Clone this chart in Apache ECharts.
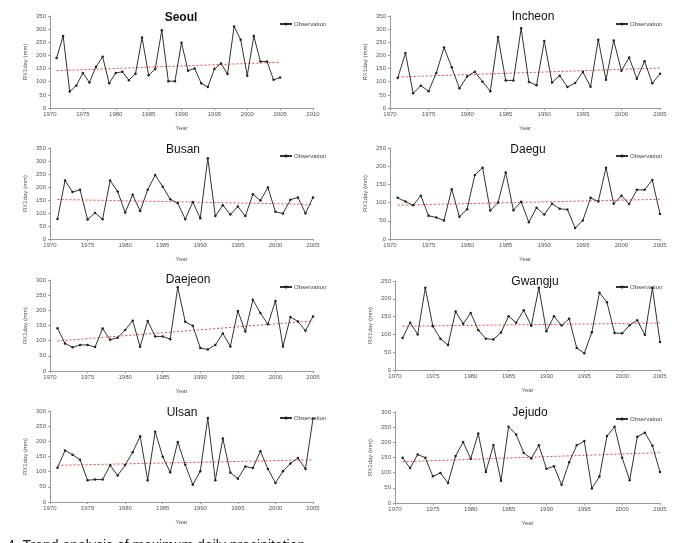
<!DOCTYPE html>
<html>
<head>
<meta charset="utf-8">
<script src="https://cdn.jsdelivr.net/npm/echarts@6/dist/echarts.min.js"></script>
<style>
html,body{margin:0;padding:0;background:#fff;}
#chart{width:681px;height:543px;}
</style>
</head>
<body>
<div id="chart"></div>
<script>
const years = [1971,1972,1973,1974,1975,1976,1977,1978,1979,1980,1981,1982,1983,1984,1985,1986,1987,1988,1989,1990,1991,1992,1993,1994,1995,1996,1997,1998,1999,2000,2001,2002,2003,2004,2005];
const cities = ['Seoul','Incheon','Busan','Daegu','Daejeon','Gwangju','Ulsan','Jejudo'];
const seoul   = [190,274,63,85,133,97,157,195,94,133,138,106,130,268,125,148,296,102,102,248,142,150,94,80,148,169,129,310,260,123,274,177,177,107,116];
const incheon = [114,209,56,85,64,133,230,155,75,120,138,100,64,270,105,105,303,99,87,255,97,123,80,95,137,81,260,107,257,142,192,111,178,94,130];
const busan   = [77,225,181,189,75,100,76,225,183,102,170,108,189,246,201,153,138,76,142,80,311,88,130,94,125,88,172,148,198,105,98,151,160,99,160];
const daegu   = [113,103,93,119,64,59,51,137,61,82,176,196,78,100,183,79,102,46,86,67,97,83,81,30,51,113,103,196,97,119,96,135,135,162,69];
const daejeon = [141,91,78,86,86,79,140,103,110,135,166,80,165,114,114,105,276,162,149,76,71,86,124,81,198,130,235,191,154,231,81,178,163,133,180];
const gwangju = [90,133,100,231,123,88,70,164,130,160,112,88,86,105,151,133,168,124,231,109,151,125,144,62,47,106,217,190,104,103,126,140,99,230,79];
const ulsan   = [113,170,156,139,72,74,74,121,87,122,164,217,72,232,149,98,198,123,57,101,277,72,209,97,77,117,112,167,109,63,101,127,145,109,275];
const jejudo  = [149,115,160,149,88,99,66,155,201,146,229,102,191,73,251,226,165,147,190,113,121,60,134,190,204,48,87,221,251,149,75,218,232,189,102];
const trendStart = [142,118,152,93,99,123,121,136];
const trendEnd   = [174,152,133,109,165,132,139,166];
const xMax = [2010,2005,2005,2005,2005,2005,2005,2005];
const yMax = [350,350,350,250,300,250,300,300];
const caption = '4. Trend analysis of maximum daily precipitation';

const values = [seoul,incheon,busan,daegu,daejeon,gwangju,ulsan,jejudo];

// layout (pixels)
const grids = [
  {left:50,  top:16,  w:263, h:92},
  {left:390, top:16,  w:270, h:92},
  {left:50,  top:148, w:263, h:91},
  {left:390, top:148, w:270, h:91},
  {left:50,  top:280, w:263, h:91},
  {left:395, top:281, w:265, h:89},
  {left:50,  top:411, w:263, h:91},
  {left:395, top:412, w:265, h:91}
];
const titlePos = [[181,18,true],[533,17,false],[183,150,false],[528,150,false],[188,280,false],[535,282,false],[182,413,false],[530,413,false]];
const legendPos = [[279,21],[615,21],[279,153],[615,153],[279,284],[615,284],[279,415],[615,416]];

const FONT = 'Liberation Sans, Arial, sans-serif';
const option = {
  backgroundColor:'#fff',
  animation:false,
  grid:[], xAxis:[], yAxis:[], series:[], legend:[], graphic:[]
};
cities.forEach((c,i)=>{
  const g = grids[i];
  option.grid.push({left:g.left, top:g.top, width:g.w, height:g.h, containLabel:false});
  option.xAxis.push({
    type:'value', gridIndex:i, min:1970, max:xMax[i], interval:5,
    name:'Year', nameLocation:'middle', nameGap:17,
    nameTextStyle:{fontSize:6, color:'#555', fontFamily:FONT},
    axisLine:{lineStyle:{color:'#999', width:1}},
    axisTick:{show:true, length:2, lineStyle:{color:'#999'}},
    axisLabel:{margin:3, fontSize:6, color:'#555', fontFamily:FONT, formatter:v=>String(v)},
    splitLine:{show:false}
  });
  option.yAxis.push({
    type:'value', gridIndex:i, min:0, max:yMax[i], interval:50,
    name:'RX1day (mm)', nameLocation:'middle', nameGap:22, nameRotate:90,
    nameTextStyle:{fontSize:6, color:'#555', fontFamily:FONT},
    axisLine:{show:true, lineStyle:{color:'#999', width:1}},
    axisTick:{show:true, length:2, lineStyle:{color:'#999'}},
    axisLabel:{margin:4, fontSize:6, color:'#555', fontFamily:FONT, formatter:v=>String(v)},
    splitLine:{show:false}
  });
  option.series.push({
    name:'Observation', type:'line', xAxisIndex:i, yAxisIndex:i,
    data: years.map((y,k)=>[y, values[i][k]]),
    symbol:'circle', symbolSize:2.5,
    itemStyle:{color:'#222'},
    lineStyle:{color:'#333', width:1},
    z:3
  });
  option.series.push({
    name:'Trend', type:'line', xAxisIndex:i, yAxisIndex:i,
    data: [[years[0], trendStart[i]],[years[years.length-1], trendEnd[i]]],
    symbol:'none',
    lineStyle:{color:'#e8464e', width:1, type:[2,2]},
    z:2
  });
  option.legend.push({
    data:['Observation'], left:legendPos[i][0], top:legendPos[i][1],
    itemWidth:12, itemHeight:4, itemGap:2, padding:0,
    textStyle:{fontSize:6, color:'#444', fontFamily:FONT, padding:[0,0,0,-3]},
    selectedMode:false
  });
  option.graphic.push({
    type:'text', x:titlePos[i][0], y:titlePos[i][1], z:10,
    style:{text:c, textAlign:'center', textVerticalAlign:'middle',
      font:(titlePos[i][2]?'bold ':'')+'12px "Liberation Sans", Arial, sans-serif', fill:'#111'}
  });
});
option.graphic.push({
  type:'text', x:7, y:539, z:10,
  style:{text:caption, textAlign:'left', textVerticalAlign:'top',
    font:'14px "Liberation Sans", Arial, sans-serif', fill:'#222'}
});

const chart = echarts.init(document.getElementById('chart'), null, {renderer:'canvas'});
chart.setOption(option);
</script>
</body>
</html>
